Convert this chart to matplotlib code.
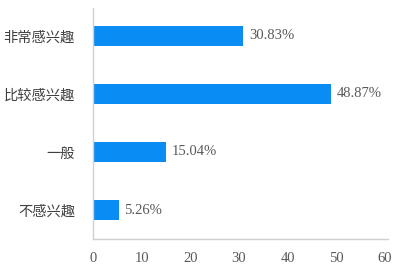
import matplotlib
matplotlib.use('Agg')
import matplotlib.pyplot as plt

# Données
categories = ['非常感兴趣', '比较感兴趣', '一般', '不感兴趣']
valeurs = [30.83, 48.87, 15.04, 5.26]
xticks = [0, 10, 20, 30, 40, 50, 60]

plt.rcParams['font.family'] = ['Noto Sans CJK SC', 'DejaVu Sans']

fig = plt.figure(figsize=(4, 2.68), dpi=100)
ax = fig.add_axes([0.2325, 0.108, 0.7375, 0.862])

pos = list(range(len(categories)))
ax.barh(pos, valeurs, height=0.35, color='#0a8cf5')

for p, v in zip(pos, valeurs):
    ax.text(v + 1.2, p, f'{v:.2f}%', va='center', ha='left',
            fontsize=10.5, color='#595959', family='Liberation Serif')

ax.set_yticks(pos)
ax.set_yticklabels(categories, fontsize=10.3, color='#404040')
ax.set_xticks(xticks)
ax.set_xticklabels([str(t) for t in xticks], fontsize=10.5, color='#595959',
                   family='Liberation Serif')
ax.set_xlim(0, 60.6)
ax.set_ylim(3.5, -0.48)

ax.tick_params(axis='y', length=0, pad=13)
ax.tick_params(axis='x', length=0, pad=9.5)
for s in ['top', 'right']:
    ax.spines[s].set_visible(False)
for s in ['left', 'bottom']:
    ax.spines[s].set_color('#d0d0d0')
    ax.spines[s].set_linewidth(1)

fig.savefig('out.png', dpi=100)
